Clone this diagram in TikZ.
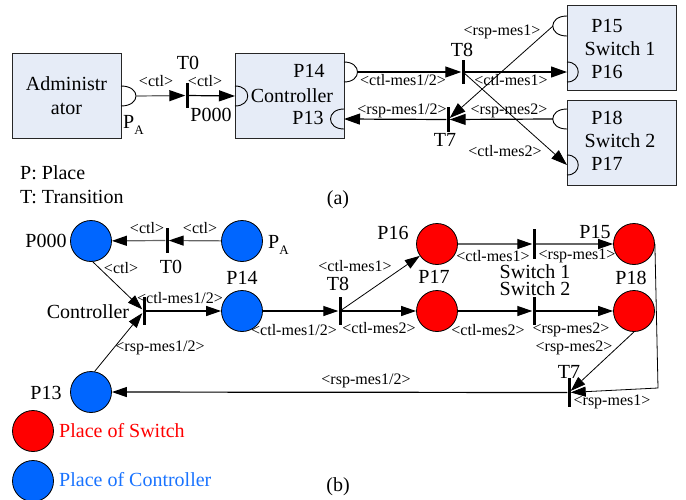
\documentclass[tikz,border=0pt]{standalone}
\usepackage{fontspec}
\setmainfont{Liberation Serif}
\usetikzlibrary{arrows.meta}
\definecolor{boxfill}{RGB}{230,236,247}
\definecolor{plred}{RGB}{255,0,0}
\definecolor{plblue}{RGB}{0,102,255}
\definecolor{txtblue}{RGB}{25,115,255}
\begin{document}
\begin{tikzpicture}[x=1pt,y=-1pt,
  box/.style={draw=black!85, fill=boxfill, line width=0.9pt, inner sep=0pt,
              minimum width=109pt, minimum height=85pt},
  tbar/.style={fill=black, draw=none, inner sep=0pt, minimum width=3pt},
  place/.style={circle, draw=black, line width=0.8pt, minimum size=41pt, inner sep=0pt},
  sw/.style={place, fill=plred},
  ct/.style={place, fill=plblue},
  txt/.style={font=\fontsize{20}{24}\selectfont, inner sep=0pt},
  lbl/.style={font=\fontsize{16}{16}\selectfont, inner sep=0pt},
  port/.style={line width=0.9pt},
  arr/.style={line width=1.2pt, -{Triangle[length=16pt,width=11pt]}},
  darr/.style={line width=0.8pt, -{Triangle[length=16pt,width=11pt]}},
  garr/.style={line width=1.2pt, draw=black!60, -{Triangle[length=16pt,width=11pt,color=black]}},
  barr/.style={line width=1.2pt, -{Triangle[length=15pt,width=10pt]}},
  bdarr/.style={line width=0.8pt, -{Triangle[length=15pt,width=10pt]}},
  bgarr/.style={line width=1.2pt, draw=black!60, -{Triangle[length=15pt,width=10pt,color=black]}},
]
\useasboundingbox (0,0) rectangle (686,499);

% ---------------- (a) component view ----------------
\node[box, txt, align=center] (adm) at (66.5,95.5) {Administr\\ator};
\node[box] (ctrl) at (289.5,95.5) {};
\node[box] (swa) at (621.5,47.5) {};
\node[box] (swb) at (621.5,142.5) {};

% ports on the boxes
\draw[port] (121,86) .. controls (141,86) and (141,106) .. (121,106);
\coordinate (pa) at (136,96);
\draw[port] (235,86) .. controls (252,86) and (252,106) .. (235,106);
\coordinate (p000) at (235,96);
\draw[port] (344,62) .. controls (362,62) and (362,82) .. (344,82);
\coordinate (p14) at (357,72);
\draw[port] (344,109) .. controls (326,109) and (326,129) .. (344,129);
\coordinate (p13) at (344,119);
\draw[port] (567,16) .. controls (548,16) and (548,36) .. (567,36);
\coordinate (p15) at (553,26);
\draw[port] (567,62) .. controls (582,62) and (582,82) .. (567,82);
\coordinate (p16) at (567,72);
\draw[port] (567,109) .. controls (548,109) and (548,129) .. (567,129);
\coordinate (p18) at (553,119);
\draw[port] (567,155) .. controls (582,155) and (582,175) .. (567,175);
\coordinate (p17) at (567,165);

% transitions
\node[tbar, minimum height=25pt] (t0) at (187,95.5) {};
\node[tbar, minimum height=24pt] (t8) at (463,72) {};
\node[tbar, minimum height=25pt] (t7) at (448,119.5) {};

% message flows
\draw[garr] (pa) -- (t0);
\draw[arr] (t0) -- (p000);
\draw[arr] (p14) -- (t8);
\draw[arr] (t8) -- (p16);
\draw[darr] (t8.center) -- (p17);
\draw[darr] (p15) -- (t7);
\draw[arr] (p18) -- (t7);
\draw[arr] (t7) -- (p13);

% texts of (a)
\node[txt] (la-t0) at (188,63) {T0};
\node[lbl] (la-c1) at (156,81) {<ctl>};
\node[lbl] (la-c2) at (205,81) {<ctl>};
\node[txt, anchor=base west] (la-pa) at (123,128) {P\raisebox{-0.3em}{\fontsize{13}{13}\selectfont A}};
\node[txt] (la-p000) at (211,115) {P000};
\node[txt] (la-p14) at (309,71) {P14};
\node[txt] (la-ctrl) at (292,96) {Controller};
\node[txt] (la-p13) at (308,118) {P13};
\node[lbl] (la-m1) at (403,80) {<ctl-mes1/2>};
\node[txt] (la-t8) at (462,50) {T8};
\node[lbl] (la-m2) at (511,80) {<ctl-mes1>};
\node[lbl] (la-m3) at (502,32) {<rsp-mes1>};
\node[txt] (la-p15) at (607,26) {P15};
\node[txt] (la-s1) at (620,49) {Switch 1};
\node[txt] (la-p16) at (607,72) {P16};
\node[lbl] (la-m4) at (402,111) {<rsp-mes1/2>};
\node[lbl] (la-m5) at (509,111) {<rsp-mes2>};
\node[txt] (la-t7) at (445,140) {T7};
\node[lbl] (la-m6) at (505,151) {<ctl-mes2>};
\node[txt] (la-p18) at (607,118) {P18};
\node[txt] (la-s2) at (620,141) {Switch 2};
\node[txt] (la-p17) at (607,164) {P17};
\node[txt, anchor=west] (key-p) at (20,173) {P: Place};
\node[txt, anchor=west] (key-t) at (20,197) {T: Transition};
\node[txt] (cap-a) at (338,200) {(a)};

% ---------------- (b) Petri net ----------------
\node[ct] (b000) at (91,241) {};
\node[ct] (bpa) at (242,241) {};
\node[ct] (b14) at (242,311) {};
\node[ct] (b13) at (91,392) {};
\node[sw] (b16) at (437,244) {};
\node[sw] (b17) at (437,311) {};
\node[sw] (b15) at (634,244) {};
\node[sw] (b18) at (634,311) {};

\node[tbar, minimum height=25pt] (bt0) at (167,240.5) {};
\node[tbar, minimum height=28pt] (bctl) at (144,311) {};
\node[tbar, minimum height=28pt] (bt8) at (340,311) {};
\node[tbar, minimum height=30pt] (bsw1) at (534,244) {};
\node[tbar, minimum height=28pt] (bsw2) at (534,311) {};
\node[tbar, minimum height=29pt] (bt7) at (569,392.5) {};
\coordinate (bturn) at (658,388);

\draw[bgarr] (bpa) -- (bt0);
\draw[bgarr] (bt0) -- (b000);
\draw[bdarr] (b000.-85) -- (bctl);
\draw[bdarr] (b13.80) -- (bctl);
\draw[barr] (bctl) -- (b14);
\draw[barr] (b14) -- (bt8);
\draw[bdarr] (bt8.center) -- (b16);
\draw[barr] (bt8) -- (b17);
\draw[bgarr] (b16) -- (bsw1);
\draw[bgarr] (bsw1) -- (b15);
\draw[barr] (b17) -- (bsw2);
\draw[barr] (bsw2) -- (b18);
\draw[bdarr] (b18.south) -- (bt7);
\draw[bdarr] (b15.east) -- (bturn) -- (bt7);
\draw[barr] (bt7) -- (b13);

% texts of (b)
\node[txt] (lb-p000) at (46,241) {P000};
\node[txt, anchor=base west] (lb-pa) at (268,248) {P\raisebox{-0.3em}{\fontsize{13}{13}\selectfont A}};
\node[lbl] (lb-c1) at (147,228) {<ctl>};
\node[lbl] (lb-c2) at (200,228) {<ctl>};
\node[txt] (lb-t0) at (171,267) {T0};
\node[lbl] (lb-c3) at (121,268) {<ctl>};
\node[txt] (lb-ctrl) at (88,312) {Controller};
\node[lbl] (lb-m1) at (180,298) {<ctl-mes1/2>};
\node[txt] (lb-p14) at (242,278) {P14};
\node[lbl] (lb-m2) at (160,348) {<rsp-mes1/2>};
\node[txt] (lb-p13) at (46,393) {P13};
\node[lbl] (lb-m3) at (294,330) {<ctl-mes1/2>};
\node[txt] (lb-t8) at (338,284) {T8};
\node[lbl] (lb-m4) at (355,266) {<ctl-mes1>};
\node[txt] (lb-p16) at (393,233) {P16};
\node[lbl] (lb-m5) at (379,328) {<ctl-mes2>};
\node[txt] (lb-p17) at (434,277) {P17};
\node[lbl] (lb-m6) at (493,256) {<ctl-mes1>};
\node[txt] (lb-p15) at (595,232) {P15};
\node[lbl] (lb-m7) at (577,256) {<rsp-mes1>};
\node[txt, align=center, font=\fontsize{20}{17}\selectfont] (lb-sw) at (535,280) {Switch 1\\Switch 2};
\node[txt] (lb-p18) at (631,278) {P18};
\node[lbl] (lb-m8) at (488,330) {<ctl-mes2>};
\node[lbl] (lb-m9) at (571,330) {<rsp-mes2>};
\node[lbl] (lb-m10) at (574,348) {<rsp-mes2>};
\node[txt] (lb-t7) at (569,372) {T7};
\node[lbl] (lb-m11) at (612,402) {<rsp-mes1>};
\node[lbl] (lb-m12) at (366,381) {<rsp-mes1/2>};

% legend
\node[sw] (lg-sw) at (33,431) {};
\node[txt, anchor=west, text=plred] (lg-swt) at (59,431) {Place of Switch};
\node[ct] (lg-ct) at (33,481) {};
\node[txt, anchor=west, text=txtblue] (lg-ctt) at (59,480) {Place of Controller};
\node[txt] (cap-b) at (338,487) {(b)};
\end{tikzpicture}
\end{document}
